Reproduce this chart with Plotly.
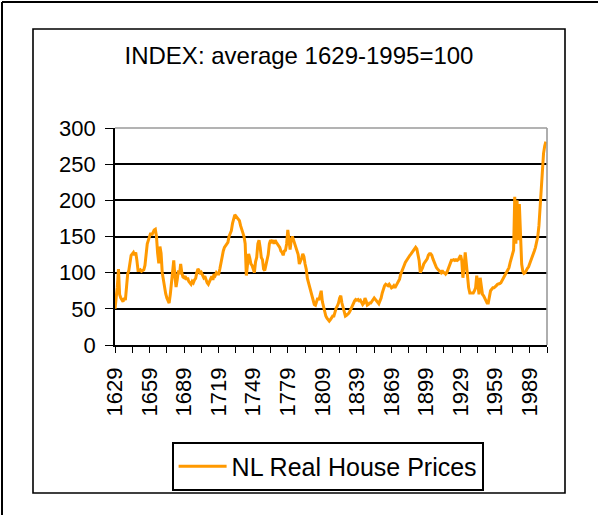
import plotly.graph_objects as go

# ---------------- data ----------------
years = list(range(1629, 2004))
prices = [
    50, 62, 80, 105, 70, 65, 62, 60, 65, 62,         # 1629-1638
    80, 98, 103, 115, 124, 126, 128, 124, 128, 117,  # 1639-1648
    103, 103, 104, 102, 103, 104, 110, 128, 140, 145,  # 1649-1658
    150, 155, 152, 157, 159, 160, 150, 127, 113, 136,  # 1659-1668
    127, 100, 89, 80, 71, 65, 60, 58, 70, 89,        # 1669-1678
    100, 117, 95, 80, 90, 103, 98, 112, 100, 94,     # 1679-1688
    93, 95, 90, 93, 88, 86, 84, 88, 86, 90,          # 1689-1698
    92, 100, 105, 103, 98, 100, 96, 93, 95, 90,      # 1699-1708
    86, 84, 88, 93, 95, 90, 98, 96, 100, 98,         # 1709-1718
    98, 105, 115, 120, 130, 135, 138, 140, 142, 150,  # 1719-1728
    154, 158, 168, 176, 180, 178, 176, 175, 172, 165,  # 1729-1738
    158, 155, 150, 140, 96, 115, 126, 120, 112, 110,  # 1739-1748
    105, 100, 115, 121, 140, 145, 135, 121, 118, 105,  # 1749-1758
    103, 112, 121, 125, 140, 145, 143, 145, 140, 145,  # 1759-1768
    142, 140, 138, 135, 130, 128, 124, 130, 131, 140,  # 1769-1778
    159, 145, 132, 145, 150, 145, 140, 138, 132, 125,  # 1779-1788
    112, 115, 120, 126, 122, 112, 105, 92, 86, 80,    # 1789-1798
    72, 68, 60, 56, 55, 60, 65, 62, 68, 75,           # 1799-1808
    60, 52, 48, 40, 37, 35, 33, 35, 38, 40,           # 1809-1818
    40, 47, 51, 54, 58, 65, 68, 58, 51, 44,           # 1819-1828
    40, 41, 42, 44, 47, 51, 54, 58, 61, 63,           # 1829-1838
    62, 63, 61, 62, 58, 56, 58, 65, 61, 55,           # 1839-1848
    56, 58, 58, 61, 63, 65, 63, 61, 58, 57,           # 1849-1858
    61, 65, 72, 79, 82, 84, 83, 82, 84, 82,           # 1859-1868
    79, 80, 82, 79, 82, 84, 86, 91, 98, 103,          # 1869-1878
    107, 110, 114, 117, 119, 121, 124, 126, 128, 131,  # 1879-1888
    133, 135, 133, 126, 117, 100, 103, 107, 112, 114,  # 1889-1898
    117, 119, 124, 126, 126, 124, 119, 114, 112, 107,  # 1899-1908
    105, 103, 102, 100, 103, 100, 100, 98, 100, 105,  # 1909-1918
    107, 114, 117, 117, 118, 117, 118, 117, 118, 121,  # 1919-1928
    124, 117, 93, 107, 128, 112, 93, 79, 72, 72,      # 1929-1938
    72, 72, 75, 79, 96, 84, 70, 93, 79, 70,           # 1939-1948
    68, 65, 63, 58, 58, 65, 75, 77, 79, 79,           # 1949-1958
    80, 82, 84, 84, 85, 86, 89, 90, 93, 97,           # 1959-1968
    99, 103, 107, 114, 119, 126, 131, 205, 140, 200,  # 1969-1978
    145, 195, 135, 112, 102, 99, 100, 104, 106, 108,  # 1979-1988
    112, 116, 120, 125, 130, 135, 142, 150, 165, 190,  # 1989-1998
    220, 250, 265, 275, 281,                          # 1999-2003
]
series_name = "NL Real House Prices"
title_text = "INDEX: average 1629-1995=100"
x_tick_vals = list(range(1629, 2000, 30))
x_tick_text = [str(v) for v in x_tick_vals]
y_tick_vals = [0, 50, 100, 150, 200, 250, 300]

# ---------------- layout constants (pixels) ----------------
W, H = 598, 515
PL, PR, PT, PB = 115, 547, 128, 345  # plot area box
FONT = "'Liberation Sans', Arial, sans-serif"


def px(x):
    return (x - PL) / (PR - PL)


def py(y):
    return (PB - y) / (PB - PT)


fig = go.Figure()
fig.add_trace(go.Scatter(
    x=years, y=prices, mode="lines", name=series_name,
    line=dict(color="#FF9900", width=3),
))

shapes = [
    # outer frame (top and left)
    dict(type="line", xref="paper", yref="paper", x0=px(2), x1=px(W), y0=py(2), y1=py(2),
         line=dict(color="black", width=2)),
    dict(type="line", xref="paper", yref="paper", x0=px(2), x1=px(2), y0=py(2), y1=py(H),
         line=dict(color="black", width=2)),
    # inner chart frame
    dict(type="rect", xref="paper", yref="paper", x0=px(33), x1=px(565), y0=py(493), y1=py(29),
         line=dict(color="black", width=1.6), layer="below"),
    # plot-area border (gray top and right)
    dict(type="line", xref="paper", yref="paper", x0=0, x1=1, y0=1, y1=1,
         line=dict(color="#9a9a9a", width=1.6), layer="above"),
    dict(type="line", xref="paper", yref="paper", x0=1, x1=1, y0=0, y1=1,
         line=dict(color="#9a9a9a", width=1.6), layer="above"),
]

fig.update_layout(
    width=W, height=H,
    margin=dict(l=PL, r=W - PR, t=PT, b=H - PB, pad=0),
    paper_bgcolor="white", plot_bgcolor="white",
    font=dict(family=FONT, color="black", size=22),
    title=dict(text=title_text, x=299 / W, xanchor="center", y=1 - 56 / H, yanchor="middle",
               font=dict(family=FONT, size=24, color="black")),
    showlegend=True,
    legend=dict(
        x=px(172), xanchor="left", y=py(442), yanchor="top",
        bordercolor="black", borderwidth=1.6, bgcolor="white",
        font=dict(family=FONT, size=25, color="black"),
        itemwidth=48, tracegroupgap=0,
    ),
    shapes=shapes,
    xaxis=dict(
        range=[1629, 2004], tickmode="array", tickvals=x_tick_vals, ticktext=x_tick_text,
        tickangle=-90, ticks="outside", ticklen=6, tickwidth=1.4, tickcolor="black",
        showline=True, linecolor="black", linewidth=1.6, showgrid=False, zeroline=False,
        tickfont=dict(family=FONT, size=22, color="black"), ticklabelstandoff=6,
        minor=dict(tickmode="linear", tick0=1629, dtick=15, ticks="outside", ticklen=6,
                   tickwidth=1.4, tickcolor="black", showgrid=False),
        fixedrange=True,
    ),
    yaxis=dict(
        range=[0, 300], tickmode="array", tickvals=y_tick_vals,
        ticks="outside", ticklen=8, tickwidth=1.4, tickcolor="black",
        showline=True, linecolor="black", linewidth=1.6,
        showgrid=True, gridcolor="black", gridwidth=1.6, zeroline=False,
        tickfont=dict(family=FONT, size=22, color="black"), ticklabelstandoff=5,
        fixedrange=True,
    ),
)

fig.write_html("out.html", config={"displayModeBar": False},
               post_script="document.body.style.margin='0';")
